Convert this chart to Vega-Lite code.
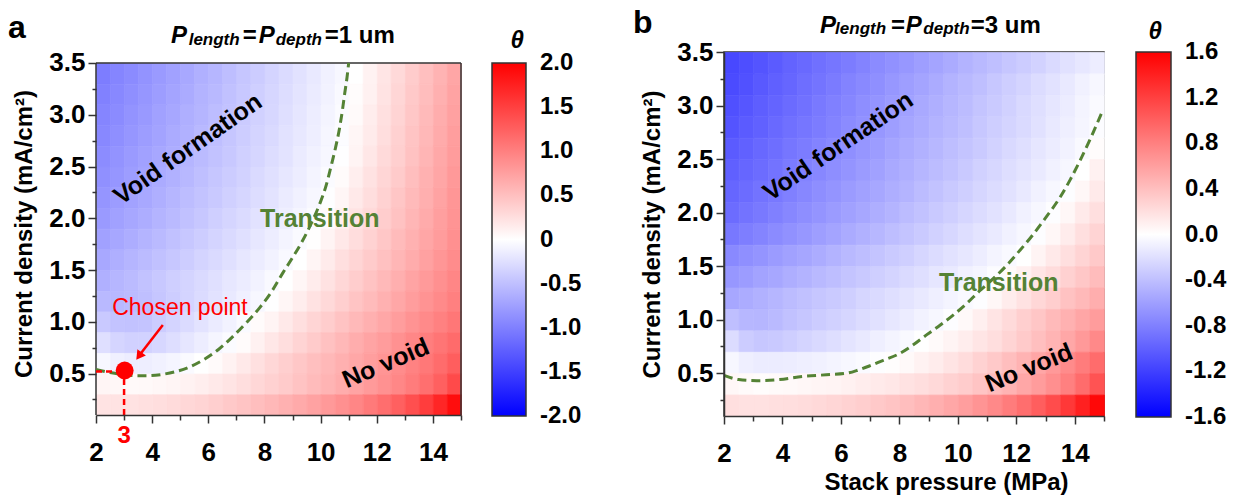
{
"$schema": "https://vega.github.io/schema/vega-lite/v6.json",
"padding": {"left": 8, "top": 5, "right": 0, "bottom": 0},
"bounds": "flush",
"spacing": 263,
"background": "white",
"config": {
 "view": {"stroke": "#333333", "strokeWidth": 1.5},
 "font": "Liberation Sans",
 "axis": {"labelFont": "Liberation Sans", "labelFontSize": 26, "labelFontWeight": "bold", "labelColor": "#000000", "titleFont": "Liberation Sans", "titleFontSize": 24, "titleFontWeight": "bold", "titleColor": "#000000", "domainColor": "#333333", "domainWidth": 1.5, "tickColor": "#333333", "tickWidth": 1.5, "grid": false, "labelOverlap": false, "labelFlush": false},
 "legend": {"labelFont": "Liberation Sans", "labelFontSize": 24, "labelFontWeight": "bold", "labelColor": "#000000", "gradientStrokeColor": "#333333", "gradientStrokeWidth": 1.5, "labelOverlap": false}
},
"datasets": {
"heatL": [
{"x":2.25,"y":3.4,"t":-1.02},{"x":2.75,"y":3.4,"t":-0.96},{"x":3.25,"y":3.4,"t":-0.91},{"x":3.75,"y":3.4,"t":-0.85},{"x":4.25,"y":3.4,"t":-0.79},{"x":4.75,"y":3.4,"t":-0.74},{"x":5.25,"y":3.4,"t":-0.68},{"x":5.75,"y":3.4,"t":-0.62},{"x":6.25,"y":3.4,"t":-0.57},{"x":6.75,"y":3.4,"t":-0.51},{"x":7.25,"y":3.4,"t":-0.45},{"x":7.75,"y":3.4,"t":-0.40},{"x":8.25,"y":3.4,"t":-0.34},{"x":8.75,"y":3.4,"t":-0.28},{"x":9.25,"y":3.4,"t":-0.23},{"x":9.75,"y":3.4,"t":-0.17},{"x":10.25,"y":3.4,"t":-0.11},{"x":10.75,"y":3.4,"t":-0.06},{"x":11.25,"y":3.4,"t":0.00},{"x":11.75,"y":3.4,"t":0.10},{"x":12.25,"y":3.4,"t":0.20},{"x":12.75,"y":3.4,"t":0.30},{"x":13.25,"y":3.4,"t":0.40},{"x":13.75,"y":3.4,"t":0.50},{"x":14.25,"y":3.4,"t":0.60},{"x":14.75,"y":3.4,"t":0.70},
{"x":2.25,"y":3.2,"t":-0.99},{"x":2.75,"y":3.2,"t":-0.93},{"x":3.25,"y":3.2,"t":-0.88},{"x":3.75,"y":3.2,"t":-0.82},{"x":4.25,"y":3.2,"t":-0.77},{"x":4.75,"y":3.2,"t":-0.71},{"x":5.25,"y":3.2,"t":-0.66},{"x":5.75,"y":3.2,"t":-0.60},{"x":6.25,"y":3.2,"t":-0.55},{"x":6.75,"y":3.2,"t":-0.49},{"x":7.25,"y":3.2,"t":-0.43},{"x":7.75,"y":3.2,"t":-0.38},{"x":8.25,"y":3.2,"t":-0.32},{"x":8.75,"y":3.2,"t":-0.27},{"x":9.25,"y":3.2,"t":-0.21},{"x":9.75,"y":3.2,"t":-0.16},{"x":10.25,"y":3.2,"t":-0.10},{"x":10.75,"y":3.2,"t":-0.05},{"x":11.25,"y":3.2,"t":0.02},{"x":11.75,"y":3.2,"t":0.11},{"x":12.25,"y":3.2,"t":0.22},{"x":12.75,"y":3.2,"t":0.32},{"x":13.25,"y":3.2,"t":0.42},{"x":13.75,"y":3.2,"t":0.52},{"x":14.25,"y":3.2,"t":0.62},{"x":14.75,"y":3.2,"t":0.72},
{"x":2.25,"y":3.0,"t":-0.96},{"x":2.75,"y":3.0,"t":-0.91},{"x":3.25,"y":3.0,"t":-0.85},{"x":3.75,"y":3.0,"t":-0.80},{"x":4.25,"y":3.0,"t":-0.74},{"x":4.75,"y":3.0,"t":-0.69},{"x":5.25,"y":3.0,"t":-0.63},{"x":5.75,"y":3.0,"t":-0.58},{"x":6.25,"y":3.0,"t":-0.52},{"x":6.75,"y":3.0,"t":-0.47},{"x":7.25,"y":3.0,"t":-0.41},{"x":7.75,"y":3.0,"t":-0.36},{"x":8.25,"y":3.0,"t":-0.31},{"x":8.75,"y":3.0,"t":-0.25},{"x":9.25,"y":3.0,"t":-0.20},{"x":9.75,"y":3.0,"t":-0.14},{"x":10.25,"y":3.0,"t":-0.09},{"x":10.75,"y":3.0,"t":-0.03},{"x":11.25,"y":3.0,"t":0.04},{"x":11.75,"y":3.0,"t":0.14},{"x":12.25,"y":3.0,"t":0.24},{"x":12.75,"y":3.0,"t":0.34},{"x":13.25,"y":3.0,"t":0.44},{"x":13.75,"y":3.0,"t":0.54},{"x":14.25,"y":3.0,"t":0.64},{"x":14.75,"y":3.0,"t":0.74},
{"x":2.25,"y":2.8,"t":-0.93},{"x":2.75,"y":2.8,"t":-0.88},{"x":3.25,"y":2.8,"t":-0.82},{"x":3.75,"y":2.8,"t":-0.77},{"x":4.25,"y":2.8,"t":-0.72},{"x":4.75,"y":2.8,"t":-0.66},{"x":5.25,"y":2.8,"t":-0.61},{"x":5.75,"y":2.8,"t":-0.55},{"x":6.25,"y":2.8,"t":-0.50},{"x":6.75,"y":2.8,"t":-0.45},{"x":7.25,"y":2.8,"t":-0.39},{"x":7.75,"y":2.8,"t":-0.34},{"x":8.25,"y":2.8,"t":-0.29},{"x":8.75,"y":2.8,"t":-0.23},{"x":9.25,"y":2.8,"t":-0.18},{"x":9.75,"y":2.8,"t":-0.13},{"x":10.25,"y":2.8,"t":-0.07},{"x":10.75,"y":2.8,"t":-0.02},{"x":11.25,"y":2.8,"t":0.07},{"x":11.75,"y":2.8,"t":0.16},{"x":12.25,"y":2.8,"t":0.26},{"x":12.75,"y":2.8,"t":0.36},{"x":13.25,"y":2.8,"t":0.46},{"x":13.75,"y":2.8,"t":0.56},{"x":14.25,"y":2.8,"t":0.66},{"x":14.75,"y":2.8,"t":0.76},
{"x":2.25,"y":2.6,"t":-0.90},{"x":2.75,"y":2.6,"t":-0.85},{"x":3.25,"y":2.6,"t":-0.79},{"x":3.75,"y":2.6,"t":-0.74},{"x":4.25,"y":2.6,"t":-0.69},{"x":4.75,"y":2.6,"t":-0.64},{"x":5.25,"y":2.6,"t":-0.58},{"x":5.75,"y":2.6,"t":-0.53},{"x":6.25,"y":2.6,"t":-0.48},{"x":6.75,"y":2.6,"t":-0.43},{"x":7.25,"y":2.6,"t":-0.37},{"x":7.75,"y":2.6,"t":-0.32},{"x":8.25,"y":2.6,"t":-0.27},{"x":8.75,"y":2.6,"t":-0.22},{"x":9.25,"y":2.6,"t":-0.16},{"x":9.75,"y":2.6,"t":-0.11},{"x":10.25,"y":2.6,"t":-0.06},{"x":10.75,"y":2.6,"t":-0.01},{"x":11.25,"y":2.6,"t":0.09},{"x":11.75,"y":2.6,"t":0.19},{"x":12.25,"y":2.6,"t":0.29},{"x":12.75,"y":2.6,"t":0.38},{"x":13.25,"y":2.6,"t":0.48},{"x":13.75,"y":2.6,"t":0.58},{"x":14.25,"y":2.6,"t":0.68},{"x":14.75,"y":2.6,"t":0.78},
{"x":2.25,"y":2.4,"t":-0.87},{"x":2.75,"y":2.4,"t":-0.82},{"x":3.25,"y":2.4,"t":-0.77},{"x":3.75,"y":2.4,"t":-0.71},{"x":4.25,"y":2.4,"t":-0.66},{"x":4.75,"y":2.4,"t":-0.61},{"x":5.25,"y":2.4,"t":-0.56},{"x":5.75,"y":2.4,"t":-0.50},{"x":6.25,"y":2.4,"t":-0.45},{"x":6.75,"y":2.4,"t":-0.40},{"x":7.25,"y":2.4,"t":-0.35},{"x":7.75,"y":2.4,"t":-0.29},{"x":8.25,"y":2.4,"t":-0.24},{"x":8.75,"y":2.4,"t":-0.19},{"x":9.25,"y":2.4,"t":-0.14},{"x":9.75,"y":2.4,"t":-0.09},{"x":10.25,"y":2.4,"t":-0.03},{"x":10.75,"y":2.4,"t":0.03},{"x":11.25,"y":2.4,"t":0.13},{"x":11.75,"y":2.4,"t":0.23},{"x":12.25,"y":2.4,"t":0.32},{"x":12.75,"y":2.4,"t":0.41},{"x":13.25,"y":2.4,"t":0.51},{"x":13.75,"y":2.4,"t":0.61},{"x":14.25,"y":2.4,"t":0.70},{"x":14.75,"y":2.4,"t":0.80},
{"x":2.25,"y":2.2,"t":-0.83},{"x":2.75,"y":2.2,"t":-0.78},{"x":3.25,"y":2.2,"t":-0.73},{"x":3.75,"y":2.2,"t":-0.68},{"x":4.25,"y":2.2,"t":-0.63},{"x":4.75,"y":2.2,"t":-0.57},{"x":5.25,"y":2.2,"t":-0.52},{"x":5.75,"y":2.2,"t":-0.47},{"x":6.25,"y":2.2,"t":-0.42},{"x":6.75,"y":2.2,"t":-0.37},{"x":7.25,"y":2.2,"t":-0.32},{"x":7.75,"y":2.2,"t":-0.27},{"x":8.25,"y":2.2,"t":-0.22},{"x":8.75,"y":2.2,"t":-0.16},{"x":9.25,"y":2.2,"t":-0.11},{"x":9.75,"y":2.2,"t":-0.06},{"x":10.25,"y":2.2,"t":-0.01},{"x":10.75,"y":2.2,"t":0.07},{"x":11.25,"y":2.2,"t":0.17},{"x":11.75,"y":2.2,"t":0.26},{"x":12.25,"y":2.2,"t":0.35},{"x":12.75,"y":2.2,"t":0.45},{"x":13.25,"y":2.2,"t":0.54},{"x":13.75,"y":2.2,"t":0.63},{"x":14.25,"y":2.2,"t":0.72},{"x":14.75,"y":2.2,"t":0.82},
{"x":2.25,"y":2.0,"t":-0.79},{"x":2.75,"y":2.0,"t":-0.74},{"x":3.25,"y":2.0,"t":-0.69},{"x":3.75,"y":2.0,"t":-0.64},{"x":4.25,"y":2.0,"t":-0.59},{"x":4.75,"y":2.0,"t":-0.54},{"x":5.25,"y":2.0,"t":-0.49},{"x":5.75,"y":2.0,"t":-0.44},{"x":6.25,"y":2.0,"t":-0.38},{"x":6.75,"y":2.0,"t":-0.33},{"x":7.25,"y":2.0,"t":-0.28},{"x":7.75,"y":2.0,"t":-0.23},{"x":8.25,"y":2.0,"t":-0.18},{"x":8.75,"y":2.0,"t":-0.13},{"x":9.25,"y":2.0,"t":-0.08},{"x":9.75,"y":2.0,"t":-0.03},{"x":10.25,"y":2.0,"t":0.03},{"x":10.75,"y":2.0,"t":0.12},{"x":11.25,"y":2.0,"t":0.22},{"x":11.75,"y":2.0,"t":0.30},{"x":12.25,"y":2.0,"t":0.39},{"x":12.75,"y":2.0,"t":0.48},{"x":13.25,"y":2.0,"t":0.57},{"x":13.75,"y":2.0,"t":0.66},{"x":14.25,"y":2.0,"t":0.75},{"x":14.75,"y":2.0,"t":0.84},
{"x":2.25,"y":1.8,"t":-0.74},{"x":2.75,"y":1.8,"t":-0.69},{"x":3.25,"y":1.8,"t":-0.64},{"x":3.75,"y":1.8,"t":-0.59},{"x":4.25,"y":1.8,"t":-0.54},{"x":4.75,"y":1.8,"t":-0.49},{"x":5.25,"y":1.8,"t":-0.44},{"x":5.75,"y":1.8,"t":-0.39},{"x":6.25,"y":1.8,"t":-0.34},{"x":6.75,"y":1.8,"t":-0.29},{"x":7.25,"y":1.8,"t":-0.24},{"x":7.75,"y":1.8,"t":-0.19},{"x":8.25,"y":1.8,"t":-0.14},{"x":8.75,"y":1.8,"t":-0.09},{"x":9.25,"y":1.8,"t":-0.04},{"x":9.75,"y":1.8,"t":0.01},{"x":10.25,"y":1.8,"t":0.09},{"x":10.75,"y":1.8,"t":0.18},{"x":11.25,"y":1.8,"t":0.27},{"x":11.75,"y":1.8,"t":0.35},{"x":12.25,"y":1.8,"t":0.44},{"x":12.75,"y":1.8,"t":0.53},{"x":13.25,"y":1.8,"t":0.61},{"x":13.75,"y":1.8,"t":0.70},{"x":14.25,"y":1.8,"t":0.78},{"x":14.75,"y":1.8,"t":0.87},
{"x":2.25,"y":1.6,"t":-0.68},{"x":2.75,"y":1.6,"t":-0.63},{"x":3.25,"y":1.6,"t":-0.58},{"x":3.75,"y":1.6,"t":-0.53},{"x":4.25,"y":1.6,"t":-0.49},{"x":4.75,"y":1.6,"t":-0.44},{"x":5.25,"y":1.6,"t":-0.39},{"x":5.75,"y":1.6,"t":-0.34},{"x":6.25,"y":1.6,"t":-0.29},{"x":6.75,"y":1.6,"t":-0.24},{"x":7.25,"y":1.6,"t":-0.19},{"x":7.75,"y":1.6,"t":-0.15},{"x":8.25,"y":1.6,"t":-0.10},{"x":8.75,"y":1.6,"t":-0.05},{"x":9.25,"y":1.6,"t":0.00},{"x":9.75,"y":1.6,"t":0.08},{"x":10.25,"y":1.6,"t":0.16},{"x":10.75,"y":1.6,"t":0.25},{"x":11.25,"y":1.6,"t":0.33},{"x":11.75,"y":1.6,"t":0.41},{"x":12.25,"y":1.6,"t":0.49},{"x":12.75,"y":1.6,"t":0.57},{"x":13.25,"y":1.6,"t":0.65},{"x":13.75,"y":1.6,"t":0.74},{"x":14.25,"y":1.6,"t":0.82},{"x":14.75,"y":1.6,"t":0.90},
{"x":2.25,"y":1.4,"t":-0.62},{"x":2.75,"y":1.4,"t":-0.57},{"x":3.25,"y":1.4,"t":-0.53},{"x":3.75,"y":1.4,"t":-0.48},{"x":4.25,"y":1.4,"t":-0.43},{"x":4.75,"y":1.4,"t":-0.38},{"x":5.25,"y":1.4,"t":-0.34},{"x":5.75,"y":1.4,"t":-0.29},{"x":6.25,"y":1.4,"t":-0.24},{"x":6.75,"y":1.4,"t":-0.19},{"x":7.25,"y":1.4,"t":-0.15},{"x":7.75,"y":1.4,"t":-0.10},{"x":8.25,"y":1.4,"t":-0.05},{"x":8.75,"y":1.4,"t":0.00},{"x":9.25,"y":1.4,"t":0.07},{"x":9.75,"y":1.4,"t":0.15},{"x":10.25,"y":1.4,"t":0.23},{"x":10.75,"y":1.4,"t":0.31},{"x":11.25,"y":1.4,"t":0.39},{"x":11.75,"y":1.4,"t":0.47},{"x":12.25,"y":1.4,"t":0.55},{"x":12.75,"y":1.4,"t":0.63},{"x":13.25,"y":1.4,"t":0.71},{"x":13.75,"y":1.4,"t":0.79},{"x":14.25,"y":1.4,"t":0.87},{"x":14.75,"y":1.4,"t":0.95},
{"x":2.25,"y":1.2,"t":-0.55},{"x":2.75,"y":1.2,"t":-0.56},{"x":3.25,"y":1.2,"t":-0.53},{"x":3.75,"y":1.2,"t":-0.50},{"x":4.25,"y":1.2,"t":-0.45},{"x":4.75,"y":1.2,"t":-0.39},{"x":5.25,"y":1.2,"t":-0.34},{"x":5.75,"y":1.2,"t":-0.28},{"x":6.25,"y":1.2,"t":-0.23},{"x":6.75,"y":1.2,"t":-0.17},{"x":7.25,"y":1.2,"t":-0.12},{"x":7.75,"y":1.2,"t":-0.06},{"x":8.25,"y":1.2,"t":-0.01},{"x":8.75,"y":1.2,"t":0.07},{"x":9.25,"y":1.2,"t":0.14},{"x":9.75,"y":1.2,"t":0.23},{"x":10.25,"y":1.2,"t":0.30},{"x":10.75,"y":1.2,"t":0.38},{"x":11.25,"y":1.2,"t":0.46},{"x":11.75,"y":1.2,"t":0.53},{"x":12.25,"y":1.2,"t":0.61},{"x":12.75,"y":1.2,"t":0.69},{"x":13.25,"y":1.2,"t":0.77},{"x":13.75,"y":1.2,"t":0.85},{"x":14.25,"y":1.2,"t":0.92},{"x":14.75,"y":1.2,"t":1.00},
{"x":2.25,"y":1.0,"t":-0.42},{"x":2.75,"y":1.0,"t":-0.47},{"x":3.25,"y":1.0,"t":-0.48},{"x":3.75,"y":1.0,"t":-0.46},{"x":4.25,"y":1.0,"t":-0.40},{"x":4.75,"y":1.0,"t":-0.34},{"x":5.25,"y":1.0,"t":-0.28},{"x":5.75,"y":1.0,"t":-0.22},{"x":6.25,"y":1.0,"t":-0.16},{"x":6.75,"y":1.0,"t":-0.10},{"x":7.25,"y":1.0,"t":-0.04},{"x":7.75,"y":1.0,"t":0.03},{"x":8.25,"y":1.0,"t":0.09},{"x":8.75,"y":1.0,"t":0.17},{"x":9.25,"y":1.0,"t":0.25},{"x":9.75,"y":1.0,"t":0.33},{"x":10.25,"y":1.0,"t":0.39},{"x":10.75,"y":1.0,"t":0.47},{"x":11.25,"y":1.0,"t":0.55},{"x":11.75,"y":1.0,"t":0.62},{"x":12.25,"y":1.0,"t":0.69},{"x":12.75,"y":1.0,"t":0.77},{"x":13.25,"y":1.0,"t":0.85},{"x":13.75,"y":1.0,"t":0.92},{"x":14.25,"y":1.0,"t":0.99},{"x":14.75,"y":1.0,"t":1.07},
{"x":2.25,"y":0.8,"t":-0.25},{"x":2.75,"y":0.8,"t":-0.33},{"x":3.25,"y":0.8,"t":-0.36},{"x":3.75,"y":0.8,"t":-0.35},{"x":4.25,"y":0.8,"t":-0.31},{"x":4.75,"y":0.8,"t":-0.26},{"x":5.25,"y":0.8,"t":-0.20},{"x":5.75,"y":0.8,"t":-0.14},{"x":6.25,"y":0.8,"t":-0.08},{"x":6.75,"y":0.8,"t":-0.03},{"x":7.25,"y":0.8,"t":0.03},{"x":7.75,"y":0.8,"t":0.11},{"x":8.25,"y":0.8,"t":0.19},{"x":8.75,"y":0.8,"t":0.26},{"x":9.25,"y":0.8,"t":0.34},{"x":9.75,"y":0.8,"t":0.41},{"x":10.25,"y":0.8,"t":0.49},{"x":10.75,"y":0.8,"t":0.56},{"x":11.25,"y":0.8,"t":0.64},{"x":11.75,"y":0.8,"t":0.71},{"x":12.25,"y":0.8,"t":0.78},{"x":12.75,"y":0.8,"t":0.86},{"x":13.25,"y":0.8,"t":0.94},{"x":13.75,"y":0.8,"t":1.01},{"x":14.25,"y":0.8,"t":1.08},{"x":14.75,"y":0.8,"t":1.16},
{"x":2.25,"y":0.6,"t":-0.06},{"x":2.75,"y":0.6,"t":-0.12},{"x":3.25,"y":0.6,"t":-0.14},{"x":3.75,"y":0.6,"t":-0.13},{"x":4.25,"y":0.6,"t":-0.11},{"x":4.75,"y":0.6,"t":-0.08},{"x":5.25,"y":0.6,"t":-0.04},{"x":5.75,"y":0.6,"t":0.00},{"x":6.25,"y":0.6,"t":0.04},{"x":6.75,"y":0.6,"t":0.10},{"x":7.25,"y":0.6,"t":0.17},{"x":7.75,"y":0.6,"t":0.24},{"x":8.25,"y":0.6,"t":0.31},{"x":8.75,"y":0.6,"t":0.38},{"x":9.25,"y":0.6,"t":0.44},{"x":9.75,"y":0.6,"t":0.50},{"x":10.25,"y":0.6,"t":0.56},{"x":10.75,"y":0.6,"t":0.62},{"x":11.25,"y":0.6,"t":0.69},{"x":11.75,"y":0.6,"t":0.76},{"x":12.25,"y":0.6,"t":0.83},{"x":12.75,"y":0.6,"t":0.90},{"x":13.25,"y":0.6,"t":0.98},{"x":13.75,"y":0.6,"t":1.06},{"x":14.25,"y":0.6,"t":1.15},{"x":14.75,"y":0.6,"t":1.26},
{"x":2.25,"y":0.4,"t":0.08},{"x":2.75,"y":0.4,"t":0.06},{"x":3.25,"y":0.4,"t":0.05},{"x":3.75,"y":0.4,"t":0.05},{"x":4.25,"y":0.4,"t":0.06},{"x":4.75,"y":0.4,"t":0.08},{"x":5.25,"y":0.4,"t":0.10},{"x":5.75,"y":0.4,"t":0.13},{"x":6.25,"y":0.4,"t":0.17},{"x":6.75,"y":0.4,"t":0.21},{"x":7.25,"y":0.4,"t":0.26},{"x":7.75,"y":0.4,"t":0.31},{"x":8.25,"y":0.4,"t":0.36},{"x":8.75,"y":0.4,"t":0.41},{"x":9.25,"y":0.4,"t":0.47},{"x":9.75,"y":0.4,"t":0.53},{"x":10.25,"y":0.4,"t":0.59},{"x":10.75,"y":0.4,"t":0.65},{"x":11.25,"y":0.4,"t":0.72},{"x":11.75,"y":0.4,"t":0.79},{"x":12.25,"y":0.4,"t":0.86},{"x":12.75,"y":0.4,"t":0.94},{"x":13.25,"y":0.4,"t":1.03},{"x":13.75,"y":0.4,"t":1.13},{"x":14.25,"y":0.4,"t":1.25},{"x":14.75,"y":0.4,"t":1.42},
{"x":2.25,"y":0.2,"t":0.22},{"x":2.75,"y":0.2,"t":0.22},{"x":3.25,"y":0.2,"t":0.23},{"x":3.75,"y":0.2,"t":0.24},{"x":4.25,"y":0.2,"t":0.26},{"x":4.75,"y":0.2,"t":0.28},{"x":5.25,"y":0.2,"t":0.31},{"x":5.75,"y":0.2,"t":0.34},{"x":6.25,"y":0.2,"t":0.38},{"x":6.75,"y":0.2,"t":0.42},{"x":7.25,"y":0.2,"t":0.46},{"x":7.75,"y":0.2,"t":0.51},{"x":8.25,"y":0.2,"t":0.56},{"x":8.75,"y":0.2,"t":0.61},{"x":9.25,"y":0.2,"t":0.67},{"x":9.75,"y":0.2,"t":0.73},{"x":10.25,"y":0.2,"t":0.80},{"x":10.75,"y":0.2,"t":0.87},{"x":11.25,"y":0.2,"t":0.95},{"x":11.75,"y":0.2,"t":1.04},{"x":12.25,"y":0.2,"t":1.14},{"x":12.75,"y":0.2,"t":1.25},{"x":13.25,"y":0.2,"t":1.38},{"x":13.75,"y":0.2,"t":1.52},{"x":14.25,"y":0.2,"t":1.70},{"x":14.75,"y":0.2,"t":1.90}
],
"heatR": [
{"x":2.25,"y":3.4,"t":-1.15},{"x":2.75,"y":3.4,"t":-1.11},{"x":3.25,"y":3.4,"t":-1.07},{"x":3.75,"y":3.4,"t":-1.03},{"x":4.25,"y":3.4,"t":-0.98},{"x":4.75,"y":3.4,"t":-0.94},{"x":5.25,"y":3.4,"t":-0.90},{"x":5.75,"y":3.4,"t":-0.86},{"x":6.25,"y":3.4,"t":-0.82},{"x":6.75,"y":3.4,"t":-0.78},{"x":7.25,"y":3.4,"t":-0.73},{"x":7.75,"y":3.4,"t":-0.69},{"x":8.25,"y":3.4,"t":-0.65},{"x":8.75,"y":3.4,"t":-0.61},{"x":9.25,"y":3.4,"t":-0.57},{"x":9.75,"y":3.4,"t":-0.53},{"x":10.25,"y":3.4,"t":-0.48},{"x":10.75,"y":3.4,"t":-0.44},{"x":11.25,"y":3.4,"t":-0.40},{"x":11.75,"y":3.4,"t":-0.36},{"x":12.25,"y":3.4,"t":-0.32},{"x":12.75,"y":3.4,"t":-0.28},{"x":13.25,"y":3.4,"t":-0.23},{"x":13.75,"y":3.4,"t":-0.19},{"x":14.25,"y":3.4,"t":-0.15},{"x":14.75,"y":3.4,"t":-0.11},
{"x":2.25,"y":3.2,"t":-1.13},{"x":2.75,"y":3.2,"t":-1.09},{"x":3.25,"y":3.2,"t":-1.04},{"x":3.75,"y":3.2,"t":-1.00},{"x":4.25,"y":3.2,"t":-0.96},{"x":4.75,"y":3.2,"t":-0.91},{"x":5.25,"y":3.2,"t":-0.87},{"x":5.75,"y":3.2,"t":-0.83},{"x":6.25,"y":3.2,"t":-0.78},{"x":6.75,"y":3.2,"t":-0.74},{"x":7.25,"y":3.2,"t":-0.70},{"x":7.75,"y":3.2,"t":-0.65},{"x":8.25,"y":3.2,"t":-0.61},{"x":8.75,"y":3.2,"t":-0.57},{"x":9.25,"y":3.2,"t":-0.53},{"x":9.75,"y":3.2,"t":-0.48},{"x":10.25,"y":3.2,"t":-0.44},{"x":10.75,"y":3.2,"t":-0.40},{"x":11.25,"y":3.2,"t":-0.35},{"x":11.75,"y":3.2,"t":-0.31},{"x":12.25,"y":3.2,"t":-0.27},{"x":12.75,"y":3.2,"t":-0.22},{"x":13.25,"y":3.2,"t":-0.18},{"x":13.75,"y":3.2,"t":-0.14},{"x":14.25,"y":3.2,"t":-0.09},{"x":14.75,"y":3.2,"t":-0.05},
{"x":2.25,"y":3.0,"t":-1.10},{"x":2.75,"y":3.0,"t":-1.06},{"x":3.25,"y":3.0,"t":-1.01},{"x":3.75,"y":3.0,"t":-0.97},{"x":4.25,"y":3.0,"t":-0.93},{"x":4.75,"y":3.0,"t":-0.89},{"x":5.25,"y":3.0,"t":-0.84},{"x":5.75,"y":3.0,"t":-0.80},{"x":6.25,"y":3.0,"t":-0.76},{"x":6.75,"y":3.0,"t":-0.71},{"x":7.25,"y":3.0,"t":-0.67},{"x":7.75,"y":3.0,"t":-0.63},{"x":8.25,"y":3.0,"t":-0.59},{"x":8.75,"y":3.0,"t":-0.54},{"x":9.25,"y":3.0,"t":-0.50},{"x":9.75,"y":3.0,"t":-0.46},{"x":10.25,"y":3.0,"t":-0.42},{"x":10.75,"y":3.0,"t":-0.37},{"x":11.25,"y":3.0,"t":-0.33},{"x":11.75,"y":3.0,"t":-0.29},{"x":12.25,"y":3.0,"t":-0.24},{"x":12.75,"y":3.0,"t":-0.20},{"x":13.25,"y":3.0,"t":-0.16},{"x":13.75,"y":3.0,"t":-0.12},{"x":14.25,"y":3.0,"t":-0.07},{"x":14.75,"y":3.0,"t":-0.03},
{"x":2.25,"y":2.8,"t":-1.07},{"x":2.75,"y":2.8,"t":-1.03},{"x":3.25,"y":2.8,"t":-0.99},{"x":3.75,"y":2.8,"t":-0.94},{"x":4.25,"y":2.8,"t":-0.90},{"x":4.75,"y":2.8,"t":-0.86},{"x":5.25,"y":2.8,"t":-0.82},{"x":5.75,"y":2.8,"t":-0.78},{"x":6.25,"y":2.8,"t":-0.73},{"x":6.75,"y":2.8,"t":-0.69},{"x":7.25,"y":2.8,"t":-0.65},{"x":7.75,"y":2.8,"t":-0.61},{"x":8.25,"y":2.8,"t":-0.56},{"x":8.75,"y":2.8,"t":-0.52},{"x":9.25,"y":2.8,"t":-0.48},{"x":9.75,"y":2.8,"t":-0.44},{"x":10.25,"y":2.8,"t":-0.40},{"x":10.75,"y":2.8,"t":-0.35},{"x":11.25,"y":2.8,"t":-0.31},{"x":11.75,"y":2.8,"t":-0.27},{"x":12.25,"y":2.8,"t":-0.23},{"x":12.75,"y":2.8,"t":-0.19},{"x":13.25,"y":2.8,"t":-0.14},{"x":13.75,"y":2.8,"t":-0.10},{"x":14.25,"y":2.8,"t":-0.06},{"x":14.75,"y":2.8,"t":-0.02},
{"x":2.25,"y":2.6,"t":-1.03},{"x":2.75,"y":2.6,"t":-0.99},{"x":3.25,"y":2.6,"t":-0.95},{"x":3.75,"y":2.6,"t":-0.91},{"x":4.25,"y":2.6,"t":-0.86},{"x":4.75,"y":2.6,"t":-0.82},{"x":5.25,"y":2.6,"t":-0.78},{"x":5.75,"y":2.6,"t":-0.74},{"x":6.25,"y":2.6,"t":-0.70},{"x":6.75,"y":2.6,"t":-0.66},{"x":7.25,"y":2.6,"t":-0.62},{"x":7.75,"y":2.6,"t":-0.57},{"x":8.25,"y":2.6,"t":-0.53},{"x":8.75,"y":2.6,"t":-0.49},{"x":9.25,"y":2.6,"t":-0.45},{"x":9.75,"y":2.6,"t":-0.41},{"x":10.25,"y":2.6,"t":-0.37},{"x":10.75,"y":2.6,"t":-0.33},{"x":11.25,"y":2.6,"t":-0.28},{"x":11.75,"y":2.6,"t":-0.24},{"x":12.25,"y":2.6,"t":-0.20},{"x":12.75,"y":2.6,"t":-0.16},{"x":13.25,"y":2.6,"t":-0.12},{"x":13.75,"y":2.6,"t":-0.08},{"x":14.25,"y":2.6,"t":-0.04},{"x":14.75,"y":2.6,"t":0.02},
{"x":2.25,"y":2.4,"t":-1.00},{"x":2.75,"y":2.4,"t":-0.96},{"x":3.25,"y":2.4,"t":-0.92},{"x":3.75,"y":2.4,"t":-0.88},{"x":4.25,"y":2.4,"t":-0.83},{"x":4.75,"y":2.4,"t":-0.79},{"x":5.25,"y":2.4,"t":-0.75},{"x":5.75,"y":2.4,"t":-0.71},{"x":6.25,"y":2.4,"t":-0.67},{"x":6.75,"y":2.4,"t":-0.63},{"x":7.25,"y":2.4,"t":-0.59},{"x":7.75,"y":2.4,"t":-0.54},{"x":8.25,"y":2.4,"t":-0.50},{"x":8.75,"y":2.4,"t":-0.46},{"x":9.25,"y":2.4,"t":-0.42},{"x":9.75,"y":2.4,"t":-0.38},{"x":10.25,"y":2.4,"t":-0.34},{"x":10.75,"y":2.4,"t":-0.29},{"x":11.25,"y":2.4,"t":-0.25},{"x":11.75,"y":2.4,"t":-0.21},{"x":12.25,"y":2.4,"t":-0.17},{"x":12.75,"y":2.4,"t":-0.13},{"x":13.25,"y":2.4,"t":-0.09},{"x":13.75,"y":2.4,"t":-0.05},{"x":14.25,"y":2.4,"t":0.00},{"x":14.75,"y":2.4,"t":0.09},
{"x":2.25,"y":2.2,"t":-0.96},{"x":2.75,"y":2.2,"t":-0.92},{"x":3.25,"y":2.2,"t":-0.88},{"x":3.75,"y":2.2,"t":-0.84},{"x":4.25,"y":2.2,"t":-0.80},{"x":4.75,"y":2.2,"t":-0.75},{"x":5.25,"y":2.2,"t":-0.71},{"x":5.75,"y":2.2,"t":-0.67},{"x":6.25,"y":2.2,"t":-0.63},{"x":6.75,"y":2.2,"t":-0.59},{"x":7.25,"y":2.2,"t":-0.55},{"x":7.75,"y":2.2,"t":-0.51},{"x":8.25,"y":2.2,"t":-0.47},{"x":8.75,"y":2.2,"t":-0.42},{"x":9.25,"y":2.2,"t":-0.38},{"x":9.75,"y":2.2,"t":-0.34},{"x":10.25,"y":2.2,"t":-0.30},{"x":10.75,"y":2.2,"t":-0.26},{"x":11.25,"y":2.2,"t":-0.22},{"x":11.75,"y":2.2,"t":-0.18},{"x":12.25,"y":2.2,"t":-0.14},{"x":12.75,"y":2.2,"t":-0.09},{"x":13.25,"y":2.2,"t":-0.05},{"x":13.75,"y":2.2,"t":-0.01},{"x":14.25,"y":2.2,"t":0.05},{"x":14.75,"y":2.2,"t":0.13},
{"x":2.25,"y":2.0,"t":-0.92},{"x":2.75,"y":2.0,"t":-0.88},{"x":3.25,"y":2.0,"t":-0.84},{"x":3.75,"y":2.0,"t":-0.80},{"x":4.25,"y":2.0,"t":-0.75},{"x":4.75,"y":2.0,"t":-0.71},{"x":5.25,"y":2.0,"t":-0.67},{"x":5.75,"y":2.0,"t":-0.63},{"x":6.25,"y":2.0,"t":-0.59},{"x":6.75,"y":2.0,"t":-0.55},{"x":7.25,"y":2.0,"t":-0.51},{"x":7.75,"y":2.0,"t":-0.47},{"x":8.25,"y":2.0,"t":-0.42},{"x":8.75,"y":2.0,"t":-0.38},{"x":9.25,"y":2.0,"t":-0.34},{"x":9.75,"y":2.0,"t":-0.30},{"x":10.25,"y":2.0,"t":-0.26},{"x":10.75,"y":2.0,"t":-0.22},{"x":11.25,"y":2.0,"t":-0.18},{"x":11.75,"y":2.0,"t":-0.14},{"x":12.25,"y":2.0,"t":-0.09},{"x":12.75,"y":2.0,"t":-0.05},{"x":13.25,"y":2.0,"t":-0.01},{"x":13.75,"y":2.0,"t":0.05},{"x":14.25,"y":2.0,"t":0.13},{"x":14.75,"y":2.0,"t":0.20},
{"x":2.25,"y":1.8,"t":-0.85},{"x":2.75,"y":1.8,"t":-0.81},{"x":3.25,"y":1.8,"t":-0.77},{"x":3.75,"y":1.8,"t":-0.73},{"x":4.25,"y":1.8,"t":-0.69},{"x":4.75,"y":1.8,"t":-0.65},{"x":5.25,"y":1.8,"t":-0.61},{"x":5.75,"y":1.8,"t":-0.57},{"x":6.25,"y":1.8,"t":-0.53},{"x":6.75,"y":1.8,"t":-0.49},{"x":7.25,"y":1.8,"t":-0.45},{"x":7.75,"y":1.8,"t":-0.41},{"x":8.25,"y":1.8,"t":-0.37},{"x":8.75,"y":1.8,"t":-0.33},{"x":9.25,"y":1.8,"t":-0.29},{"x":9.75,"y":1.8,"t":-0.25},{"x":10.25,"y":1.8,"t":-0.21},{"x":10.75,"y":1.8,"t":-0.17},{"x":11.25,"y":1.8,"t":-0.13},{"x":11.75,"y":1.8,"t":-0.09},{"x":12.25,"y":1.8,"t":-0.05},{"x":12.75,"y":1.8,"t":-0.01},{"x":13.25,"y":1.8,"t":0.05},{"x":13.75,"y":1.8,"t":0.12},{"x":14.25,"y":1.8,"t":0.20},{"x":14.75,"y":1.8,"t":0.27},
{"x":2.25,"y":1.6,"t":-0.74},{"x":2.75,"y":1.6,"t":-0.70},{"x":3.25,"y":1.6,"t":-0.67},{"x":3.75,"y":1.6,"t":-0.63},{"x":4.25,"y":1.6,"t":-0.59},{"x":4.75,"y":1.6,"t":-0.56},{"x":5.25,"y":1.6,"t":-0.52},{"x":5.75,"y":1.6,"t":-0.48},{"x":6.25,"y":1.6,"t":-0.44},{"x":6.75,"y":1.6,"t":-0.41},{"x":7.25,"y":1.6,"t":-0.37},{"x":7.75,"y":1.6,"t":-0.33},{"x":8.25,"y":1.6,"t":-0.30},{"x":8.75,"y":1.6,"t":-0.26},{"x":9.25,"y":1.6,"t":-0.22},{"x":9.75,"y":1.6,"t":-0.18},{"x":10.25,"y":1.6,"t":-0.15},{"x":10.75,"y":1.6,"t":-0.11},{"x":11.25,"y":1.6,"t":-0.07},{"x":11.75,"y":1.6,"t":-0.04},{"x":12.25,"y":1.6,"t":0.00},{"x":12.75,"y":1.6,"t":0.07},{"x":13.25,"y":1.6,"t":0.14},{"x":13.75,"y":1.6,"t":0.20},{"x":14.25,"y":1.6,"t":0.27},{"x":14.75,"y":1.6,"t":0.34},
{"x":2.25,"y":1.4,"t":-0.65},{"x":2.75,"y":1.4,"t":-0.62},{"x":3.25,"y":1.4,"t":-0.58},{"x":3.75,"y":1.4,"t":-0.55},{"x":4.25,"y":1.4,"t":-0.51},{"x":4.75,"y":1.4,"t":-0.48},{"x":5.25,"y":1.4,"t":-0.44},{"x":5.75,"y":1.4,"t":-0.41},{"x":6.25,"y":1.4,"t":-0.37},{"x":6.75,"y":1.4,"t":-0.34},{"x":7.25,"y":1.4,"t":-0.30},{"x":7.75,"y":1.4,"t":-0.27},{"x":8.25,"y":1.4,"t":-0.23},{"x":8.75,"y":1.4,"t":-0.20},{"x":9.25,"y":1.4,"t":-0.16},{"x":9.75,"y":1.4,"t":-0.13},{"x":10.25,"y":1.4,"t":-0.09},{"x":10.75,"y":1.4,"t":-0.06},{"x":11.25,"y":1.4,"t":-0.02},{"x":11.75,"y":1.4,"t":0.03},{"x":12.25,"y":1.4,"t":0.09},{"x":12.75,"y":1.4,"t":0.16},{"x":13.25,"y":1.4,"t":0.22},{"x":13.75,"y":1.4,"t":0.29},{"x":14.25,"y":1.4,"t":0.35},{"x":14.75,"y":1.4,"t":0.42},
{"x":2.25,"y":1.2,"t":-0.55},{"x":2.75,"y":1.2,"t":-0.52},{"x":3.25,"y":1.2,"t":-0.49},{"x":3.75,"y":1.2,"t":-0.46},{"x":4.25,"y":1.2,"t":-0.42},{"x":4.75,"y":1.2,"t":-0.39},{"x":5.25,"y":1.2,"t":-0.36},{"x":5.75,"y":1.2,"t":-0.33},{"x":6.25,"y":1.2,"t":-0.30},{"x":6.75,"y":1.2,"t":-0.26},{"x":7.25,"y":1.2,"t":-0.23},{"x":7.75,"y":1.2,"t":-0.20},{"x":8.25,"y":1.2,"t":-0.17},{"x":8.75,"y":1.2,"t":-0.14},{"x":9.25,"y":1.2,"t":-0.10},{"x":9.75,"y":1.2,"t":-0.07},{"x":10.25,"y":1.2,"t":-0.04},{"x":10.75,"y":1.2,"t":-0.01},{"x":11.25,"y":1.2,"t":0.05},{"x":11.75,"y":1.2,"t":0.12},{"x":12.25,"y":1.2,"t":0.18},{"x":12.75,"y":1.2,"t":0.25},{"x":13.25,"y":1.2,"t":0.31},{"x":13.75,"y":1.2,"t":0.38},{"x":14.25,"y":1.2,"t":0.44},{"x":14.75,"y":1.2,"t":0.51},
{"x":2.25,"y":1.0,"t":-0.40},{"x":2.75,"y":1.0,"t":-0.45},{"x":3.25,"y":1.0,"t":-0.46},{"x":3.75,"y":1.0,"t":-0.43},{"x":4.25,"y":1.0,"t":-0.39},{"x":4.75,"y":1.0,"t":-0.36},{"x":5.25,"y":1.0,"t":-0.32},{"x":5.75,"y":1.0,"t":-0.29},{"x":6.25,"y":1.0,"t":-0.26},{"x":6.75,"y":1.0,"t":-0.22},{"x":7.25,"y":1.0,"t":-0.19},{"x":7.75,"y":1.0,"t":-0.15},{"x":8.25,"y":1.0,"t":-0.12},{"x":8.75,"y":1.0,"t":-0.08},{"x":9.25,"y":1.0,"t":-0.05},{"x":9.75,"y":1.0,"t":-0.01},{"x":10.25,"y":1.0,"t":0.04},{"x":10.75,"y":1.0,"t":0.10},{"x":11.25,"y":1.0,"t":0.17},{"x":11.75,"y":1.0,"t":0.23},{"x":12.25,"y":1.0,"t":0.30},{"x":12.75,"y":1.0,"t":0.36},{"x":13.25,"y":1.0,"t":0.43},{"x":13.75,"y":1.0,"t":0.49},{"x":14.25,"y":1.0,"t":0.56},{"x":14.75,"y":1.0,"t":0.62},
{"x":2.25,"y":0.8,"t":-0.22},{"x":2.75,"y":0.8,"t":-0.32},{"x":3.25,"y":0.8,"t":-0.35},{"x":3.75,"y":0.8,"t":-0.34},{"x":4.25,"y":0.8,"t":-0.31},{"x":4.75,"y":0.8,"t":-0.27},{"x":5.25,"y":0.8,"t":-0.24},{"x":5.75,"y":0.8,"t":-0.21},{"x":6.25,"y":0.8,"t":-0.17},{"x":6.75,"y":0.8,"t":-0.14},{"x":7.25,"y":0.8,"t":-0.10},{"x":7.75,"y":0.8,"t":-0.07},{"x":8.25,"y":0.8,"t":-0.04},{"x":8.75,"y":0.8,"t":0.00},{"x":9.25,"y":0.8,"t":0.03},{"x":9.75,"y":0.8,"t":0.07},{"x":10.25,"y":0.8,"t":0.11},{"x":10.75,"y":0.8,"t":0.16},{"x":11.25,"y":0.8,"t":0.21},{"x":11.75,"y":0.8,"t":0.27},{"x":12.25,"y":0.8,"t":0.33},{"x":12.75,"y":0.8,"t":0.40},{"x":13.25,"y":0.8,"t":0.47},{"x":13.75,"y":0.8,"t":0.55},{"x":14.25,"y":0.8,"t":0.64},{"x":14.75,"y":0.8,"t":0.74},
{"x":2.25,"y":0.6,"t":-0.05},{"x":2.75,"y":0.6,"t":-0.10},{"x":3.25,"y":0.6,"t":-0.12},{"x":3.75,"y":0.6,"t":-0.12},{"x":4.25,"y":0.6,"t":-0.11},{"x":4.75,"y":0.6,"t":-0.10},{"x":5.25,"y":0.6,"t":-0.09},{"x":5.75,"y":0.6,"t":-0.07},{"x":6.25,"y":0.6,"t":-0.05},{"x":6.75,"y":0.6,"t":-0.03},{"x":7.25,"y":0.6,"t":-0.01},{"x":7.75,"y":0.6,"t":0.01},{"x":8.25,"y":0.6,"t":0.04},{"x":8.75,"y":0.6,"t":0.08},{"x":9.25,"y":0.6,"t":0.12},{"x":9.75,"y":0.6,"t":0.17},{"x":10.25,"y":0.6,"t":0.22},{"x":10.75,"y":0.6,"t":0.28},{"x":11.25,"y":0.6,"t":0.34},{"x":11.75,"y":0.6,"t":0.41},{"x":12.25,"y":0.6,"t":0.48},{"x":12.75,"y":0.6,"t":0.56},{"x":13.25,"y":0.6,"t":0.64},{"x":13.75,"y":0.6,"t":0.73},{"x":14.25,"y":0.6,"t":0.82},{"x":14.75,"y":0.6,"t":0.92},
{"x":2.25,"y":0.4,"t":0.05},{"x":2.75,"y":0.4,"t":0.03},{"x":3.25,"y":0.4,"t":0.02},{"x":3.75,"y":0.4,"t":0.03},{"x":4.25,"y":0.4,"t":0.04},{"x":4.75,"y":0.4,"t":0.05},{"x":5.25,"y":0.4,"t":0.06},{"x":5.75,"y":0.4,"t":0.07},{"x":6.25,"y":0.4,"t":0.09},{"x":6.75,"y":0.4,"t":0.11},{"x":7.25,"y":0.4,"t":0.13},{"x":7.75,"y":0.4,"t":0.15},{"x":8.25,"y":0.4,"t":0.18},{"x":8.75,"y":0.4,"t":0.21},{"x":9.25,"y":0.4,"t":0.24},{"x":9.75,"y":0.4,"t":0.28},{"x":10.25,"y":0.4,"t":0.32},{"x":10.75,"y":0.4,"t":0.37},{"x":11.25,"y":0.4,"t":0.42},{"x":11.75,"y":0.4,"t":0.48},{"x":12.25,"y":0.4,"t":0.55},{"x":12.75,"y":0.4,"t":0.62},{"x":13.25,"y":0.4,"t":0.70},{"x":13.75,"y":0.4,"t":0.80},{"x":14.25,"y":0.4,"t":0.92},{"x":14.75,"y":0.4,"t":1.08},
{"x":2.25,"y":0.2,"t":0.20},{"x":2.75,"y":0.2,"t":0.19},{"x":3.25,"y":0.2,"t":0.19},{"x":3.75,"y":0.2,"t":0.20},{"x":4.25,"y":0.2,"t":0.21},{"x":4.75,"y":0.2,"t":0.22},{"x":5.25,"y":0.2,"t":0.24},{"x":5.75,"y":0.2,"t":0.26},{"x":6.25,"y":0.2,"t":0.28},{"x":6.75,"y":0.2,"t":0.31},{"x":7.25,"y":0.2,"t":0.34},{"x":7.75,"y":0.2,"t":0.37},{"x":8.25,"y":0.2,"t":0.41},{"x":8.75,"y":0.2,"t":0.45},{"x":9.25,"y":0.2,"t":0.50},{"x":9.75,"y":0.2,"t":0.55},{"x":10.25,"y":0.2,"t":0.61},{"x":10.75,"y":0.2,"t":0.67},{"x":11.25,"y":0.2,"t":0.74},{"x":11.75,"y":0.2,"t":0.82},{"x":12.25,"y":0.2,"t":0.91},{"x":12.75,"y":0.2,"t":1.01},{"x":13.25,"y":0.2,"t":1.12},{"x":13.75,"y":0.2,"t":1.25},{"x":14.25,"y":0.2,"t":1.40},{"x":14.75,"y":0.2,"t":1.55}
],
"lineL": [
{"x":2.0,"y":0.54},{"x":2.5,"y":0.51},{"x":2.96,"y":0.49},{"x":3.5,"y":0.48},{"x":3.85,"y":0.48},{"x":4.3,"y":0.49},{"x":4.85,"y":0.52},{"x":5.3,"y":0.56},{"x":5.81,"y":0.63},{"x":6.35,"y":0.73},{"x":6.88,"y":0.86},{"x":7.35,"y":0.99},{"x":7.84,"y":1.14},{"x":8.25,"y":1.29},{"x":8.65,"y":1.47},{"x":9.0,"y":1.62},{"x":9.37,"y":1.79},{"x":9.7,"y":1.97},{"x":9.97,"y":2.14},{"x":10.2,"y":2.32},{"x":10.36,"y":2.49},{"x":10.53,"y":2.68},{"x":10.68,"y":2.88},{"x":10.78,"y":3.05},{"x":10.86,"y":3.21},{"x":10.94,"y":3.36},{"x":11.0,"y":3.5}
],
"lineR": [
{"x":2.0,"y":0.48},{"x":2.5,"y":0.44},{"x":3.13,"y":0.43},{"x":3.9,"y":0.44},{"x":4.7,"y":0.47},{"x":5.5,"y":0.485},{"x":6.21,"y":0.5},{"x":6.6,"y":0.53},{"x":7.0,"y":0.57},{"x":7.45,"y":0.62},{"x":7.91,"y":0.67},{"x":8.45,"y":0.76},{"x":8.94,"y":0.86},{"x":9.4,"y":0.95},{"x":9.83,"y":1.04},{"x":10.3,"y":1.15},{"x":10.75,"y":1.27},{"x":11.2,"y":1.38},{"x":11.68,"y":1.51},{"x":12.1,"y":1.64},{"x":12.56,"y":1.79},{"x":13.0,"y":1.95},{"x":13.49,"y":2.14},{"x":13.85,"y":2.31},{"x":14.17,"y":2.48},{"x":14.55,"y":2.7},{"x":14.92,"y":2.93}
]
},
"hconcat": [
{
"width": 365, "height": 363,
"view": {"stroke": null},
"layer": [
 {"data": {"name": "heatL"}, "mark": {"type": "rect", "binSpacing": 0, "strokeWidth": 0.7},
  "encoding": {
   "x": {"field": "x", "type": "quantitative", "bin": {"step": 0.5, "extent": [2, 15], "nice": false}, "scale": {"domain": [2, 15], "nice": false, "zero": false},
     "axis": {"title": null, "values": [2,3,4,5,6,7,8,9,10,11,12,13,14,15], "labelExpr": "datum.value % 2 === 0 ? format(datum.value, 'd') : ''", "tickSize": {"condition": {"test": "datum.value % 2 === 0", "value": 8}, "value": 5}, "labelPadding": 16}},
   "y": {"field": "y", "type": "quantitative", "bin": {"step": 0.2, "extent": [0.1, 3.5], "nice": false}, "scale": {"domain": [0.1, 3.606], "nice": false, "zero": false},
     "axis": {"title": "Current density (mA/cm²)", "domain": false, "values": [0.25,0.5,0.75,1,1.25,1.5,1.75,2,2.25,2.5,2.75,3,3.25,3.5], "labelExpr": "abs(datum.value*2 - round(datum.value*2)) < 0.001 ? format(datum.value, '.1f') : ''", "tickSize": {"condition": {"test": "abs(datum.value*2 - round(datum.value*2)) < 0.001", "value": 8}, "value": 4}, "labelPadding": 3, "titlePadding": 12}},
   "color": {"field": "t", "type": "quantitative", "scale": {"type": "linear", "domain": [-2, 0, 2], "range": ["#0000ff", "#ffffff", "#ff0000"], "interpolate": "rgb"},
     "legend": {"title": null, "values": [-2,-1.5,-1,-0.5,0,0.5,1,1.5,2], "gradientLength": 353, "gradientThickness": 34, "offset": 20, "padding": 11, "labelOffset": 14, "labelExpr": "datum.value == 0 ? '0' : (datum.value < 0 ? '-' : '') + format(abs(datum.value), '.1f')", "encode": {"labels": {"update": {"baseline": {"value": "middle"}}}}}},
   "stroke": {"field": "t", "type": "quantitative", "scale": {"type": "linear", "domain": [-2.01, 0, 2.01], "range": ["#0000ff", "#ffffff", "#ff0000"], "interpolate": "rgb"}, "legend": null}
  }},
 {"data": {"values": [{"x": 2, "x2": 15, "y": 3.5, "y2": 3.5}, {"x": 15, "x2": 15, "y": 0.1, "y2": 3.5}, {"x": 2, "x2": 2, "y": 0.1, "y2": 3.5}]},
  "mark": {"type": "rule", "color": "#333333", "strokeWidth": 1.5},
  "encoding": {"x": {"field": "x", "type": "quantitative"}, "x2": {"field": "x2"}, "y": {"field": "y", "type": "quantitative"}, "y2": {"field": "y2"}}},
 {"data": {"name": "lineL"}, "mark": {"type": "line", "color": "#548235", "strokeWidth": 3, "strokeDash": [9, 5], "interpolate": "monotone"},
  "encoding": {"x": {"field": "x", "type": "quantitative"}, "y": {"field": "y", "type": "quantitative"}}},
 {"data": {"values": [{"x": 3.0, "x2": 3.0, "y": 0.1, "y2": 0.52}, {"x": 2.0, "x2": 3.0, "y": 0.52, "y2": 0.52}]},
  "mark": {"type": "rule", "color": "#ff0000", "strokeWidth": 2.5, "strokeDash": [6, 4]},
  "encoding": {"x": {"field": "x", "type": "quantitative"}, "x2": {"field": "x2"}, "y": {"field": "y", "type": "quantitative"}, "y2": {"field": "y2"}}},
 {"data": {"values": [{"x": 3.02, "y": 0.53}]}, "mark": {"type": "circle", "color": "#ff0000", "size": 320, "opacity": 1},
  "encoding": {"x": {"field": "x", "type": "quantitative"}, "y": {"field": "y", "type": "quantitative"}}},
 {"data": {"values": [{"x": 4.38, "y": 0.97}, {"x": 3.58, "y": 0.69}]}, "mark": {"type": "line", "color": "#ff0000", "strokeWidth": 2.5},
  "encoding": {"x": {"field": "x", "type": "quantitative"}, "y": {"field": "y", "type": "quantitative"}}},
 {"data": {"values": [{"x": 3.53, "y": 0.67}]}, "mark": {"type": "point", "shape": "triangle-up", "filled": true, "color": "#ff0000", "size": 110, "angle": 216, "opacity": 1},
  "encoding": {"x": {"field": "x", "type": "quantitative"}, "y": {"field": "y", "type": "quantitative"}}},
 {"data": {"values": [{"x": -1.13, "y": 3.74, "label": "a"}]}, "mark": {"type": "text", "font": "Liberation Sans", "fontSize": 32, "fontWeight": "bold", "align": "left", "baseline": "alphabetic", "color": "#000000"},
  "encoding": {"x": {"field": "x", "type": "quantitative"}, "y": {"field": "y", "type": "quantitative"}, "text": {"field": "label"}}},
 {"data": {"values": [{"x": 4.67, "y": 3.69, "label": "P"}, {"x": 7.80, "y": 3.69, "label": "P"}]}, "mark": {"type": "text", "font": "Liberation Sans", "fontSize": 24, "fontWeight": "bold", "fontStyle": "italic", "align": "left", "baseline": "alphabetic", "color": "#000000"},
  "encoding": {"x": {"field": "x", "type": "quantitative"}, "y": {"field": "y", "type": "quantitative"}, "text": {"field": "label"}}},
 {"data": {"values": [{"x": 5.30, "y": 3.675, "label": "length"}, {"x": 8.40, "y": 3.675, "label": "depth"}]}, "mark": {"type": "text", "font": "Liberation Sans", "fontSize": 17, "fontWeight": "bold", "fontStyle": "italic", "align": "left", "baseline": "alphabetic", "color": "#000000"},
  "encoding": {"x": {"field": "x", "type": "quantitative"}, "y": {"field": "y", "type": "quantitative"}, "text": {"field": "label"}}},
 {"data": {"values": [{"x": 7.23, "y": 3.69, "label": "="}, {"x": 10.15, "y": 3.69, "label": "=1 um"}]}, "mark": {"type": "text", "font": "Liberation Sans", "fontSize": 24, "fontWeight": "bold", "align": "left", "baseline": "alphabetic", "color": "#000000"},
  "encoding": {"x": {"field": "x", "type": "quantitative"}, "y": {"field": "y", "type": "quantitative"}, "text": {"field": "label"}}},
 {"data": {"values": [{"x": 17.0, "y": 3.71, "label": "θ"}]}, "mark": {"type": "text", "font": "Liberation Sans", "fontSize": 24, "fontWeight": "bold", "fontStyle": "italic", "align": "center", "baseline": "middle", "color": "#000000"},
  "encoding": {"x": {"field": "x", "type": "quantitative"}, "y": {"field": "y", "type": "quantitative"}, "text": {"field": "label"}}},
 {"data": {"values": [{"x": 5.27, "y": 2.67, "label": "Void formation"}]}, "mark": {"type": "text", "font": "Liberation Sans", "fontSize": 25, "fontWeight": "bold", "align": "center", "baseline": "middle", "angle": 325, "color": "#000000"},
  "encoding": {"x": {"field": "x", "type": "quantitative"}, "y": {"field": "y", "type": "quantitative"}, "text": {"field": "label"}}},
 {"data": {"values": [{"x": 12.32, "y": 0.6, "label": "No void"}]}, "mark": {"type": "text", "font": "Liberation Sans", "fontSize": 25, "fontWeight": "bold", "align": "center", "baseline": "middle", "angle": 337, "color": "#000000"},
  "encoding": {"x": {"field": "x", "type": "quantitative"}, "y": {"field": "y", "type": "quantitative"}, "text": {"field": "label"}}},
 {"data": {"values": [{"x": 9.97, "y": 1.99, "label": "Transition"}]}, "mark": {"type": "text", "font": "Liberation Sans", "fontSize": 25, "fontWeight": "bold", "align": "center", "baseline": "middle", "color": "#548235"},
  "encoding": {"x": {"field": "x", "type": "quantitative"}, "y": {"field": "y", "type": "quantitative"}, "text": {"field": "label"}}},
 {"data": {"values": [{"x": 4.99, "y": 1.13, "label": "Chosen point"}]}, "mark": {"type": "text", "font": "Liberation Sans", "fontSize": 23, "align": "center", "baseline": "middle", "color": "#ff0000"},
  "encoding": {"x": {"field": "x", "type": "quantitative"}, "y": {"field": "y", "type": "quantitative"}, "text": {"field": "label"}}},
 {"data": {"values": [{"x": 3.0, "y": -0.17, "label": "3"}]}, "mark": {"type": "text", "font": "Liberation Sans", "fontSize": 24, "fontWeight": "bold", "align": "center", "baseline": "alphabetic", "color": "#ff0000"},
  "encoding": {"x": {"field": "x", "type": "quantitative"}, "y": {"field": "y", "type": "quantitative"}, "text": {"field": "label"}}}
]
},
{
"width": 380, "height": 364,
"layer": [
 {"data": {"name": "heatR"}, "mark": {"type": "rect", "binSpacing": 0, "strokeWidth": 0.7},
  "encoding": {
   "x": {"field": "x", "type": "quantitative", "bin": {"step": 0.5, "extent": [2, 15], "nice": false}, "scale": {"domain": [2, 15], "nice": false, "zero": false},
     "axis": {"title": "Stack pressure (MPa)", "titleX": 222, "values": [2,3,4,5,6,7,8,9,10,11,12,13,14,15], "labelExpr": "datum.value % 2 === 0 ? format(datum.value, 'd') : ''", "tickSize": {"condition": {"test": "datum.value % 2 === 0", "value": 8}, "value": 5}, "labelPadding": 16, "titlePadding": 4}},
   "y": {"field": "y", "type": "quantitative", "bin": {"step": 0.2, "extent": [0.1, 3.5], "nice": false}, "scale": {"domain": [0.1, 3.5], "nice": false, "zero": false},
     "axis": {"title": "Current density (mA/cm²)", "values": [0.25,0.5,0.75,1,1.25,1.5,1.75,2,2.25,2.5,2.75,3,3.25,3.5], "labelExpr": "abs(datum.value*2 - round(datum.value*2)) < 0.001 ? format(datum.value, '.1f') : ''", "tickSize": {"condition": {"test": "abs(datum.value*2 - round(datum.value*2)) < 0.001", "value": 8}, "value": 4}, "labelPadding": 3, "titlePadding": 12}},
   "color": {"field": "t", "type": "quantitative", "scale": {"type": "linear", "domain": [-1.6, 0, 1.6], "range": ["#0000ff", "#ffffff", "#ff0000"], "interpolate": "rgb"},
     "legend": {"title": null, "values": [-1.6,-1.2,-0.8,-0.4,0,0.4,0.8,1.2,1.6], "gradientLength": 365, "gradientThickness": 35, "offset": 32, "labelOffset": 14, "labelExpr": "(datum.value < 0 ? '-' : '') + format(abs(datum.value), '.1f')", "encode": {"labels": {"update": {"baseline": {"value": "middle"}}}}}},
   "stroke": {"field": "t", "type": "quantitative", "scale": {"type": "linear", "domain": [-1.61, 0, 1.61], "range": ["#0000ff", "#ffffff", "#ff0000"], "interpolate": "rgb"}, "legend": null}
  }},
 {"data": {"name": "lineR"}, "mark": {"type": "line", "color": "#548235", "strokeWidth": 3, "strokeDash": [9, 5], "interpolate": "monotone"},
  "encoding": {"x": {"field": "x", "type": "quantitative"}, "y": {"field": "y", "type": "quantitative"}}},
 {"data": {"values": [{"x": -1.11, "y": 3.68, "label": "b"}]}, "mark": {"type": "text", "font": "Liberation Sans", "fontSize": 32, "fontWeight": "bold", "align": "left", "baseline": "alphabetic", "color": "#000000"},
  "encoding": {"x": {"field": "x", "type": "quantitative"}, "y": {"field": "y", "type": "quantitative"}, "text": {"field": "label"}}},
 {"data": {"values": [{"x": 5.28, "y": 3.68, "label": "P"}, {"x": 8.22, "y": 3.68, "label": "P"}]}, "mark": {"type": "text", "font": "Liberation Sans", "fontSize": 24, "fontWeight": "bold", "fontStyle": "italic", "align": "left", "baseline": "alphabetic", "color": "#000000"},
  "encoding": {"x": {"field": "x", "type": "quantitative"}, "y": {"field": "y", "type": "quantitative"}, "text": {"field": "label"}}},
 {"data": {"values": [{"x": 5.80, "y": 3.665, "label": "length"}, {"x": 8.82, "y": 3.665, "label": "depth"}]}, "mark": {"type": "text", "font": "Liberation Sans", "fontSize": 17, "fontWeight": "bold", "fontStyle": "italic", "align": "left", "baseline": "alphabetic", "color": "#000000"},
  "encoding": {"x": {"field": "x", "type": "quantitative"}, "y": {"field": "y", "type": "quantitative"}, "text": {"field": "label"}}},
 {"data": {"values": [{"x": 7.71, "y": 3.68, "label": "="}, {"x": 10.44, "y": 3.68, "label": "=3 um"}]}, "mark": {"type": "text", "font": "Liberation Sans", "fontSize": 24, "fontWeight": "bold", "align": "left", "baseline": "alphabetic", "color": "#000000"},
  "encoding": {"x": {"field": "x", "type": "quantitative"}, "y": {"field": "y", "type": "quantitative"}, "text": {"field": "label"}}},
 {"data": {"values": [{"x": 16.75, "y": 3.69, "label": "θ"}]}, "mark": {"type": "text", "font": "Liberation Sans", "fontSize": 24, "fontWeight": "bold", "fontStyle": "italic", "align": "center", "baseline": "middle", "color": "#000000"},
  "encoding": {"x": {"field": "x", "type": "quantitative"}, "y": {"field": "y", "type": "quantitative"}, "text": {"field": "label"}}},
 {"data": {"values": [{"x": 5.9, "y": 2.62, "label": "Void formation"}]}, "mark": {"type": "text", "font": "Liberation Sans", "fontSize": 25, "fontWeight": "bold", "align": "center", "baseline": "middle", "angle": 326, "color": "#000000"},
  "encoding": {"x": {"field": "x", "type": "quantitative"}, "y": {"field": "y", "type": "quantitative"}, "text": {"field": "label"}}},
 {"data": {"values": [{"x": 12.43, "y": 0.55, "label": "No void"}]}, "mark": {"type": "text", "font": "Liberation Sans", "fontSize": 25, "fontWeight": "bold", "align": "center", "baseline": "middle", "angle": 338, "color": "#000000"},
  "encoding": {"x": {"field": "x", "type": "quantitative"}, "y": {"field": "y", "type": "quantitative"}, "text": {"field": "label"}}},
 {"data": {"values": [{"x": 11.4, "y": 1.34, "label": "Transition"}]}, "mark": {"type": "text", "font": "Liberation Sans", "fontSize": 25, "fontWeight": "bold", "align": "center", "baseline": "middle", "color": "#548235"},
  "encoding": {"x": {"field": "x", "type": "quantitative"}, "y": {"field": "y", "type": "quantitative"}, "text": {"field": "label"}}}
]
}
],
"resolve": {"scale": {"color": "independent", "stroke": "independent"}}
}
